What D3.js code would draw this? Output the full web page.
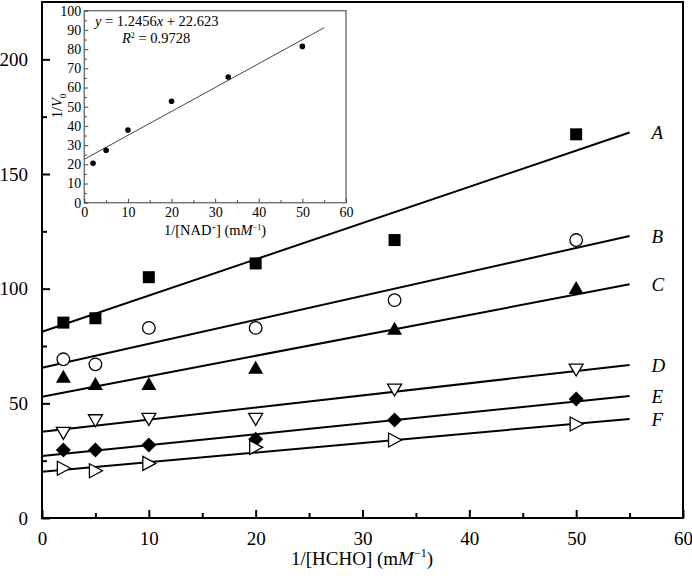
<!DOCTYPE html>
<html><head><meta charset="utf-8">
<script src="https://cdn.jsdelivr.net/npm/d3@7"></script>
<style>
html,body{margin:0;padding:0;background:#fff;}
svg{display:block;font-family:"Liberation Serif","DejaVu Serif",serif;}
</style></head>
<body>
<svg id="chart" width="692" height="579"></svg>
<script>
// ---- Data ----
const xVals = [2, 5, 10, 20, 33, 50];
const seriesNames = ["A", "B", "C", "D", "E", "F"];
const seriesA = [85.2, 87.1, 105, 111, 121.2, 167.3];
const seriesB = [69.2, 67, 82.9, 82.9, 95, 121.2];
const seriesC = [61.6, 58.4, 58.4, 65.5, 82.5, 100.3];
const seriesD = [36.9, 42.4, 43, 43, 55.8, 64.5];
const seriesE = [29.6, 29.6, 31.8, 34.3, 42.7, 51.9];
const seriesF = [21.7, 20.6, 23.8, 30.8, 34, 41];
const fitIntercepts = [81.2, 65.5, 52.9, 37.6, 27.0, 20.2];
const fitSlopes = [1.58, 1.045, 0.891, 0.529, 0.476, 0.418];
const fitXEnd = 55;
const xTicks = [0, 10, 20, 30, 40, 50, 60];
const yTicks = [0, 50, 100, 150, 200];

// inset
const insetX = [2, 5, 10, 20, 33, 50];
const insetY = [20.5, 27.3, 37.8, 52.8, 65.5, 81.4];
const insetSlope = 1.2456, insetIntercept = 22.623;
const insetXTicks = [0, 10, 20, 30, 40, 50, 60];
const insetYTicks = [0, 10, 20, 30, 40, 50, 60, 70, 80, 90, 100];

const allSeries = [seriesA, seriesB, seriesC, seriesD, seriesE, seriesF];

const svg = d3.select("#chart");
const L = 42, R = 683, T = 2, B = 518;
const x = d3.scaleLinear().domain([0, 60]).range([L, R]);
const y = d3.scaleLinear().domain([0, 225]).range([B, T]);

// frame
svg.append("rect").attr("x", L).attr("y", T).attr("width", R - L).attr("height", B - T)
  .attr("fill", "none").attr("stroke", "#000").attr("stroke-width", 2);

// x axis ticks (inward)
const xAxis = d3.axisBottom(x).tickValues(xTicks).tickSize(-8).tickSizeOuter(0).tickPadding(14);
const gx = svg.append("g").attr("transform", `translate(0,${B})`).call(xAxis);
gx.select(".domain").remove();
gx.selectAll(".tick line").attr("stroke-width", 2);
gx.selectAll("text").attr("font-size", 19).attr("font-family", "Liberation Serif").attr("fill", "#000");
const gxm = svg.append("g").attr("transform", `translate(0,${B})`)
  .call(d3.axisBottom(x).tickValues(d3.range(5, 60, 10)).tickSize(-5).tickFormat(""));
gxm.select(".domain").remove();
gxm.selectAll(".tick line").attr("stroke-width", 2);

const yAxis = d3.axisLeft(y).tickValues(yTicks).tickSize(-8).tickPadding(14);
const gy = svg.append("g").attr("transform", `translate(${L},0)`).call(yAxis);
gy.select(".domain").remove();
gy.selectAll(".tick line").attr("stroke-width", 2);
gy.selectAll("text").attr("font-size", 19).attr("font-family", "Liberation Serif").attr("fill", "#000");
const gym = svg.append("g").attr("transform", `translate(${L},0)`)
  .call(d3.axisLeft(y).tickValues([25, 75, 125, 175]).tickSize(-5).tickFormat(""));
gym.select(".domain").remove();
gym.selectAll(".tick line").attr("stroke-width", 2);

// x title
const xt = svg.append("text").attr("x", 362).attr("y", 565).attr("text-anchor", "middle")
  .attr("font-size", 19).attr("fill", "#000");
xt.append("tspan").text("1/[HCHO] (m");
xt.append("tspan").attr("font-style", "italic").text("M");
xt.append("tspan").attr("font-size", 12).attr("dy", -8).text("\u22121");
xt.append("tspan").attr("dy", 8).text(")");

// fit lines
allSeries.forEach((s, i) => {
  svg.append("line")
    .attr("x1", x(0)).attr("y1", y(fitIntercepts[i]))
    .attr("x2", x(fitXEnd)).attr("y2", y(fitIntercepts[i] + fitSlopes[i] * fitXEnd))
    .attr("stroke", "#000").attr("stroke-width", 2);
  svg.append("text").attr("x", x(fitXEnd) + 22).attr("y", y(fitIntercepts[i] + fitSlopes[i] * fitXEnd) + 7)
    .attr("font-size", 19).attr("font-style", "italic").attr("fill", "#000").text(seriesNames[i]);
});

// markers
function marker(g, type, cx, cy) {
  const sw = 1.3;
  if (type === 0) {
    g.append("rect").attr("x", cx - 6).attr("y", cy - 6).attr("width", 12).attr("height", 12).attr("fill", "#000");
  } else if (type === 1) {
    g.append("circle").attr("cx", cx).attr("cy", cy).attr("r", 6.3).attr("fill", "#fff").attr("stroke", "#000").attr("stroke-width", sw);
  } else if (type === 2) {
    g.append("path").attr("d", `M${cx},${cy - 7}L${cx + 7.5},${cy + 6}L${cx - 7.5},${cy + 6}Z`).attr("fill", "#000");
  } else if (type === 3) {
    g.append("path").attr("d", `M${cx - 7},${cy - 6}L${cx + 7},${cy - 6}L${cx},${cy + 6}Z`).attr("fill", "#fff").attr("stroke", "#000").attr("stroke-width", sw);
  } else if (type === 4) {
    g.append("path").attr("d", `M${cx},${cy - 7.5}L${cx + 7.5},${cy}L${cx},${cy + 7.5}L${cx - 7.5},${cy}Z`).attr("fill", "#000");
  } else {
    g.append("path").attr("d", `M${cx - 6},${cy - 7}L${cx + 7},${cy}L${cx - 6},${cy + 7}Z`).attr("fill", "#fff").attr("stroke", "#000").attr("stroke-width", sw);
  }
}
const mg = svg.append("g");
allSeries.forEach((s, i) => {
  s.forEach((v, j) => marker(mg, i, x(xVals[j]), y(v)));
});

// ---- inset ----
const iL = 84.3, iR = 346, iT = 10.7, iB = 202.7;
const ix = d3.scaleLinear().domain([0, 60]).range([iL, iR]);
const iy = d3.scaleLinear().domain([0, 100]).range([iB, iT]);
const inset = svg.append("g");
inset.append("rect").attr("x", iL).attr("y", iT).attr("width", iR - iL).attr("height", iB - iT)
  .attr("fill", "#fff").attr("stroke", "#777").attr("stroke-width", 1.5);

const igx = inset.append("g").attr("transform", `translate(0,${iB})`)
  .call(d3.axisBottom(ix).tickValues(insetXTicks).tickSize(-4).tickPadding(4));
igx.select(".domain").remove();
igx.selectAll(".tick line").attr("stroke", "#444");
igx.selectAll("text").attr("font-size", 14).attr("font-family", "Liberation Serif").attr("fill", "#000");
const igxm = inset.append("g").attr("transform", `translate(0,${iB})`)
  .call(d3.axisBottom(ix).tickValues(d3.range(5, 60, 10)).tickSize(-2.5).tickFormat(""));
igxm.select(".domain").remove();
igxm.selectAll(".tick line").attr("stroke", "#444");

const igy = inset.append("g").attr("transform", `translate(${iL},0)`)
  .call(d3.axisLeft(iy).tickValues(insetYTicks).tickSize(-4).tickPadding(3));
igy.select(".domain").remove();
igy.selectAll(".tick line").attr("stroke", "#444");
igy.selectAll("text").attr("font-size", 14).attr("font-family", "Liberation Serif").attr("fill", "#000");
const igym = inset.append("g").attr("transform", `translate(${iL},0)`)
  .call(d3.axisLeft(iy).tickValues(d3.range(5, 100, 10)).tickSize(-2.5).tickFormat(""));
igym.select(".domain").remove();
igym.selectAll(".tick line").attr("stroke", "#444");

inset.append("line")
  .attr("x1", ix(0)).attr("y1", iy(insetIntercept))
  .attr("x2", ix(55)).attr("y2", iy(insetIntercept + insetSlope * 55))
  .attr("stroke", "#444").attr("stroke-width", 1);
inset.selectAll("circle.ip").data(insetX).enter().append("circle")
  .attr("cx", (d) => ix(d)).attr("cy", (d, i) => iy(insetY[i])).attr("r", 2.8).attr("fill", "#000");

// equation
const eq = inset.append("text").attr("x", 95).attr("y", 26).attr("font-size", 14.5).attr("fill", "#000");
eq.append("tspan").attr("font-style", "italic").text("y");
eq.append("tspan").text(" = 1.2456");
eq.append("tspan").attr("font-style", "italic").text("x");
eq.append("tspan").text(" + 22.623");
const r2 = inset.append("text").attr("x", 122).attr("y", 43).attr("font-size", 14.5).attr("fill", "#000");
r2.append("tspan").attr("font-style", "italic").text("R");
r2.append("tspan").attr("font-size", 8).attr("dy", -5).text("2");
r2.append("tspan").attr("dy", 5).text(" = 0.9728");

// inset titles
const ixt = inset.append("text").attr("x", 215).attr("y", 235).attr("text-anchor", "middle")
  .attr("font-size", 14.5).attr("fill", "#000");
ixt.append("tspan").text("1/[NAD");
ixt.append("tspan").attr("font-size", 8).attr("dy", -5).text("+");
ixt.append("tspan").attr("dy", 5).text("] (m");
ixt.append("tspan").attr("font-style", "italic").text("M");
ixt.append("tspan").attr("font-size", 8).attr("dy", -5).text("\u22121");
ixt.append("tspan").attr("dy", 5).text(")");

const iyt = inset.append("text").attr("transform", "translate(62,106) rotate(-90)").attr("text-anchor", "middle")
  .attr("font-size", 14.5).attr("fill", "#000");
iyt.append("tspan").text("1/");
iyt.append("tspan").attr("font-style", "italic").text("V");
iyt.append("tspan").attr("font-size", 9).attr("dy", 4).text("0");
</script>
</body></html>
